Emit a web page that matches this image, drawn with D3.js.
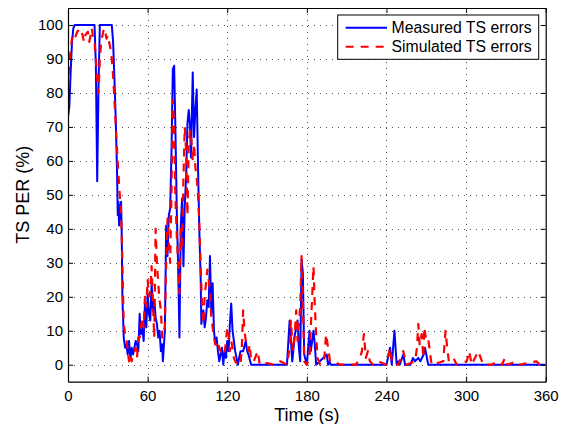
<!DOCTYPE html>
<html>
<head>
<meta charset="utf-8">
<script src="https://cdn.jsdelivr.net/npm/d3@7"></script>
<style>
  body { margin: 0; background: #fff; }
  text { font-family: "Liberation Sans", Arial, Helvetica, sans-serif; fill: #000; }
</style>
</head>
<body>
<div id="chart"></div>
<script>
// Measured TS errors (blue solid line)
var timeMeasured = [0, 1, 2, 3, 4, 5, 20, 21, 22, 23, 24, 33, 34, 35, 36, 37, 37.5, 38, 38.5, 39, 39.5, 40, 40.5, 41, 42, 43, 44, 45, 46, 47, 48, 49, 50, 51, 52, 53, 54, 55, 56, 57, 58, 59, 60, 61, 62, 63, 64, 65, 66, 67, 68, 69, 70, 71, 71.5, 73, 74, 75, 76, 77, 78, 79, 80, 81, 82, 83, 84, 85, 86, 87, 88, 89, 90, 91, 92, 92.7, 94, 95, 96, 97, 98, 99, 100, 100.5, 101, 102, 103, 104, 105, 106, 107, 108, 109, 110, 111, 112, 113, 114, 115, 116, 117, 118, 119, 120, 121, 122, 123, 124, 125, 126, 127, 128, 130, 132, 134, 135, 136, 138, 165, 167, 169, 171, 173, 174, 175, 176, 177, 178, 180, 182, 183, 185, 186, 187, 195, 196, 197, 198, 240, 242.7, 244, 246, 247.7, 249, 250, 252.7, 254, 258, 260, 261.5, 264, 265.5, 268, 269, 270, 271.5, 360];
var perMeasured = [73, 76, 86, 95, 99, 100, 100, 88, 54, 82, 100, 100, 95, 84, 72, 56, 44, 48, 41, 47, 43, 48, 38, 20, 8, 5, 6, 3, 7, 2, 5, 3, 5, 7, 6, 4, 15, 9, 11, 7, 18, 11, 21, 15, 13, 24, 16, 19, 14, 12, 8, 10, 4, 6, 1, 10, 41, 32, 44, 46, 63, 87, 88, 68, 45, 29, 8, 41, 49, 29, 47, 55, 71, 75, 70, 61, 86, 67, 75, 81, 58, 39, 25, 12, 14, 16, 11, 14, 19, 17, 32, 15, 24, 10, 6, 8, 4, 1, 3, 5, 0, 4, 2, 7, 4, 12, 18, 10, 7, 4, 2, 0, 4, 4, 7, 4, 3, 0, 0, 13, 1, 9, 13, 5, 1, 31, 27, 3, 0, 10, 4, 10, 6, 0, 3, 0, 1, 0, 0, 5, 0, 10, 0, 1, 0, 3, 0, 0, 2, 1, 2, 1, 3, 5, 3, 0, 0];

// Simulated TS errors (red dashed line)
var timeSimulated = [0, 1, 2, 3, 4, 5, 7, 9, 11, 12, 13, 15, 16, 17, 18, 19, 20, 21, 22, 23, 24, 25, 26, 27, 28, 29, 30, 31, 32, 33, 34, 35, 36, 37, 38, 39, 40, 41, 42, 43, 44, 45, 46, 47, 48, 49, 50, 51, 52, 53, 54, 55, 56, 57, 58, 59, 60, 61, 62, 63, 64, 65, 66, 67, 68, 69, 70, 71, 72, 73, 74, 75, 76, 77, 78, 79, 80, 81, 82, 83, 84, 85, 86, 87, 88, 89, 90, 91, 92, 93, 94, 95, 96, 97, 98, 99, 100, 101, 102, 103, 104, 105, 106, 107, 108, 109, 110, 111, 112, 113, 114, 115, 116, 118, 119, 120, 121, 122, 123, 124, 125, 126, 128, 130, 131, 132, 133, 134, 135, 136, 137, 138, 140, 143, 144.5, 150, 155, 160, 165, 167, 168, 169.5, 171, 172, 173, 175, 176, 177, 178, 180, 182, 183, 184, 185, 186, 187, 188, 190, 193, 194.5, 196, 197.5, 200, 205, 217, 220, 221.5, 223, 224.5, 226, 227.5, 230, 234, 240, 242.7, 244, 246, 249, 252.7, 255, 261.5, 263, 264, 265, 266.5, 267.8, 268.5, 270, 271.5, 273, 274, 282.8, 284.5, 285.8, 287, 288, 290.4, 293, 300.5, 302.4, 304.2, 309.2, 311, 313, 319, 324, 327, 329.3, 331, 338, 340, 353, 355.6, 360];
var perSimulated = [81, 88, 93, 96, 97, 96, 98, 99, 97, 95, 97, 98, 95, 97, 99, 96, 95, 90, 83, 80, 90, 95, 97, 99, 98, 96, 97, 95, 93, 90, 85, 78, 70, 63, 56, 50, 45, 30, 12, 9, 8, 4, 1, 3, 1, 3, 4, 5, 2, 8, 8, 11, 14, 11, 20, 17, 25, 20, 22, 29, 18, 8, 40, 30, 24, 19, 16, 8, 10, 11, 30, 43, 35, 30, 51, 78, 68, 48, 38, 29, 21, 40, 34, 55, 70, 63, 44, 65, 69, 66, 60, 65, 58, 55, 50, 41, 29, 18, 12, 20, 24, 28, 25, 22, 14, 11, 8, 6, 6, 7, 5, 4, 3, 3, 7, 11, 10, 4, 7, 5, 2, 1, 0, 0, 5, 16, 10, 7, 5, 4, 6, 1, 1, 4, 0, 0.5, 0, 1, 0, 5, 13, 4, 10, 16, 7, 17, 32, 19, 1, 0, 2, 11, 20, 29, 17, 9, 2, 0, 1, 9, 5, 1, 1, 0, 0, 2, 4, 9, 2, 4, 1, 0, 1, 0, 5, 1, 0, 0, 4, 0, 1, 5, 12, 6, 9, 2, 11, 7, 7.5, 3, 0, 1, 10, 5, 1, 1, 2, 0, 1, 4, 0, 4, 2, 0, 0, 1, 0, 2, 0, 1, 0, 1, 0, 0];

// Tick values and legend labels
var xTicks = [0, 60, 120, 180, 240, 300, 360];
var yTicks = [0, 10, 20, 30, 40, 50, 60, 70, 80, 90, 100];
var seriesNames = ["Measured TS errors", "Simulated TS errors"];

// Canvas size and plot box
var width = 562;
var height = 424;
var plotLeft = 68;
var plotRight = 545.7;
var plotTop = 8;
var plotBottom = 381.7;

var svg = d3
  .select("#chart")
  .append("svg")
  .attr("width", width)
  .attr("height", height);

var xScale = d3.scaleLinear().domain([0, 360]).range([plotLeft, plotRight]);
var yScale = d3.scaleLinear().domain([-5, 105]).range([plotBottom, plotTop]);

// Dotted grid
var grid = svg.append("g").attr("class", "grid");
grid
  .selectAll("line.hgrid")
  .data(yTicks)
  .enter()
  .append("line")
  .attr("x1", plotLeft)
  .attr("x2", plotRight)
  .attr("y1", function(d) { return Math.round(yScale(d)) + 0.5; })
  .attr("y2", function(d) { return Math.round(yScale(d)) + 0.5; })
  .attr("stroke", "#555")
  .attr("stroke-width", 1)
  .attr("stroke-dasharray", "1,5");
grid
  .selectAll("line.vgrid")
  .data(xTicks.slice(1, -1))
  .enter()
  .append("line")
  .attr("x1", function(d) { return Math.round(xScale(d)) + 0.5; })
  .attr("x2", function(d) { return Math.round(xScale(d)) + 0.5; })
  .attr("y1", plotTop)
  .attr("y2", plotBottom)
  .attr("stroke", "#555")
  .attr("stroke-width", 1)
  .attr("stroke-dasharray", "1,5");

// Clip lines to the plot box
svg
  .append("clipPath")
  .attr("id", "plotClip")
  .append("rect")
  .attr("x", plotLeft)
  .attr("y", plotTop)
  .attr("width", plotRight - plotLeft)
  .attr("height", plotBottom - plotTop);

function makeLine(times) {
  return d3
    .line()
    .x(function(d, i) { return xScale(times[i]); })
    .y(function(d) { return yScale(d); });
}

var lines = svg.append("g").attr("clip-path", "url(#plotClip)");

lines
  .append("path")
  .datum(perMeasured)
  .attr("d", makeLine(timeMeasured))
  .attr("fill", "none")
  .attr("stroke", "#0000ff")
  .attr("stroke-width", 2)
  .attr("stroke-linejoin", "round");

lines
  .append("path")
  .datum(perSimulated)
  .attr("d", makeLine(timeSimulated))
  .attr("fill", "none")
  .attr("stroke", "#ff0000")
  .attr("stroke-width", 2.2)
  .attr("stroke-dasharray", "8,7")
  .attr("stroke-linejoin", "round");

// Axes with inward ticks on all four sides
var xAxis = d3.axisBottom(xScale).tickValues(xTicks).tickSizeInner(-5).tickSizeOuter(0).tickPadding(9);
var yAxis = d3.axisLeft(yScale).tickValues(yTicks).tickSizeInner(-5).tickSizeOuter(0).tickPadding(5);
var xAxisTop = d3.axisTop(xScale).tickValues(xTicks).tickSizeInner(-5).tickSizeOuter(0).tickFormat("");
var yAxisRight = d3.axisRight(yScale).tickValues(yTicks).tickSizeInner(-5).tickSizeOuter(0).tickFormat("");

svg.append("g").attr("class", "xAxis").attr("transform", "translate(0," + plotBottom + ")").call(xAxis);
svg.append("g").attr("class", "yAxis").attr("transform", "translate(" + plotLeft + ",0)").call(yAxis);
svg.append("g").attr("transform", "translate(0," + plotTop + ")").call(xAxisTop);
svg.append("g").attr("transform", "translate(" + plotRight + ",0)").call(yAxisRight);

svg.selectAll(".domain").attr("stroke", "#000").attr("stroke-width", 1.2);
svg.selectAll(".tick line").attr("stroke", "#000");
svg
  .selectAll(".tick text")
  .style("font-family", '"Liberation Sans", Arial, Helvetica, sans-serif')
  .style("font-size", "15px")
  .attr("fill", "#000");

// Axis titles
svg
  .append("text")
  .attr("x", (plotLeft + plotRight) / 2)
  .attr("y", 420.5)
  .attr("text-anchor", "middle")
  .style("font-size", "18px")
  .text("Time (s)");

svg
  .append("text")
  .attr("transform", "translate(28.5," + (plotTop + plotBottom) / 2 + ")rotate(-90)")
  .attr("text-anchor", "middle")
  .style("font-size", "18px")
  .text("TS PER (%)");

// Legend
var legend = svg.append("g").attr("class", "legend");
legend
  .append("rect")
  .attr("x", 337.7)
  .attr("y", 15)
  .attr("width", 201)
  .attr("height", 44.3)
  .attr("fill", "#fff")
  .attr("stroke", "#000")
  .attr("stroke-width", 1);

var legendColors = ["#0000ff", "#ff0000"];
var legendDash = ["none", "8,7"];
seriesNames.forEach(function(name, i) {
  var ly = 27.7 + i * 19;
  legend
    .append("line")
    .attr("x1", 345.7)
    .attr("x2", 387)
    .attr("y1", ly)
    .attr("y2", ly)
    .attr("stroke", legendColors[i])
    .attr("stroke-width", 2)
    .attr("stroke-dasharray", legendDash[i]);
  legend
    .append("text")
    .attr("x", 391.5)
    .attr("y", ly + 5.6)
    .style("font-size", "15.8px")
    .text(name);
});
</script>
</body>
</html>
